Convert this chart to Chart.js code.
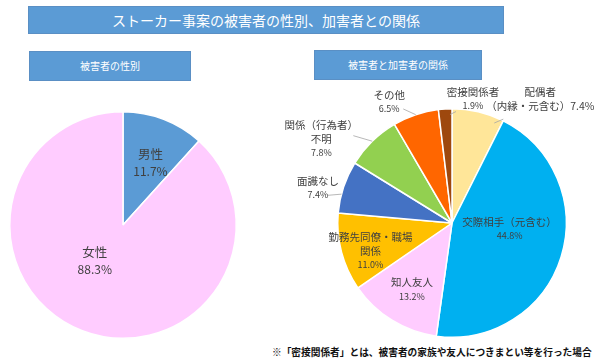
<!DOCTYPE html>
<html lang="ja">
<head>
<meta charset="utf-8">
<script src="https://cdn.jsdelivr.net/npm/chart.js@4.4.0/dist/chart.umd.min.js"></script>
<style>
    body { margin: 0; width: 600px; height: 364px; background: #fff; position: relative; overflow: hidden;
           font-family: "Noto Sans CJK JP", sans-serif; }
    .bar { position: absolute; background: #5B9BD5; color: #fff; text-align: center;
           border: 1px solid #5A8FC4; box-sizing: border-box; }
    #title { left: 28px; top: 6px; width: 476px; height: 28px; line-height: 26px; font-size: 14px; }
    #sub1 { left: 29px; top: 51px; width: 162px; height: 30px; line-height: 28px; font-size: 10px; }
    #sub2 { left: 314px; top: 50px; width: 168px; height: 30px; line-height: 28px; font-size: 10px; }
    #note { position: absolute; left: 272px; top: 345px; font-size: 9.7px; font-weight: bold; color: #111; white-space: nowrap; }
    .box { position: absolute; }
    #leftBox { left: 0; top: 100px; width: 260px; height: 250px; }
    #rightBox { left: 270px; top: 82px; width: 330px; height: 263px; }
</style>
</head>
<body>
<div class="bar" id="title">ストーカー事案の被害者の性別、加害者との関係</div>
<div class="bar" id="sub1">被害者の性別</div>
<div class="bar" id="sub2">被害者と加害者の関係</div>
<div class="box" id="leftBox"><canvas id="genderChart"></canvas></div>
<div class="box" id="rightBox"><canvas id="relationChart"></canvas></div>
<div id="note">※「密接関係者」とは、被害者の家族や友人につきまとい等を行った場合</div>
<script>
// 被害者の性別
const genderLabels = ['男性', '女性'];
const genderValues = [11.7, 88.3];
const genderColors = ['#5B9BD5', '#FFCCFF'];

// 被害者と加害者の関係
const relationLabels = ['配偶者（内縁・元含む）', '交際相手（元含む）', '知人友人', '勤務先同僚・職場関係',
                        '面識なし', '関係（行為者）不明', 'その他', '密接関係者'];
const relationValues = [7.4, 44.8, 13.2, 11.0, 7.4, 7.8, 6.5, 1.9];
const relationColors = ['#FFE699', '#00B0F0', '#FFCCFF', '#FFC000', '#4472C4', '#92D050', '#FF6600', '#9E480E'];

// ラベルの行 ({v} に値が入る)
const genderLines = [['男性', '{v}'], ['女性', '{v}']];
const relationLines = [
    ['配偶者', '（内縁・元含む）{v}'],
    ['交際相手（元含む）', '{v}'],
    ['知人友人', '{v}'],
    ['勤務先同僚・職場', '関係', '{v}'],
    ['面識なし', '{v}'],
    ['関係（行為者）', '不明', '{v}'],
    ['その他', '{v}'],
    ['密接関係者', '{v}']
];

// ラベル位置 (中心角方向の半径比 + ずれ)
const genderPos = [
    { rf: 0.6, dx: 3, dy: 1 },
    { rf: 0.35, dx: -14, dy: -1 }
];
const relationPos = [
    { rf: 1.15, dx: 58, dy: 4, leader: { t: 0.86, r: 0.95, ex: -37, ey: 20 } },
    { rf: 0.5, dx: 3, dy: -11 },
    { rf: 0.65, dx: -1, dy: 3 },
    { rf: 0.72, dx: -2, dy: 7 },
    { rf: 1.2, dx: -4, dy: 8, leader: { t: 0.36, r: 1.0, ex: 10, ey: 7.5 } },
    { rf: 1.3, dx: -27, dy: 22, leader: { t: 0.5, r: 1.0, ex: 32, ey: -3 } },
    { rf: 1.15, dx: -21, dy: 3.5, leader: { t: 0.5, r: 1.0, ex: 14, ey: 7 } },
    { rf: 1.1, dx: 28.5, dy: 1, leader: { t: 0.85, r: 0.95, ex: -17, ey: 13 } }
];

const pieLabels = {
    id: 'pieLabels',
    afterDatasetsDraw(chart, args, opts) {
        const ctx = chart.ctx;
        const values = chart.data.datasets[0].data;
        chart.getDatasetMeta(0).data.forEach(function(arc, i) {
            const p = opts.pos[i];
            const a = arc.getProps(['x', 'y', 'startAngle', 'endAngle', 'outerRadius'], true);
            const mid = (a.startAngle + a.endAngle) / 2;
            const lx = a.x + Math.cos(mid) * a.outerRadius * p.rf + p.dx;
            const ly = a.y + Math.sin(mid) * a.outerRadius * p.rf + p.dy;
            ctx.save();
            if (p.leader) {
                const ang = a.startAngle + (a.endAngle - a.startAngle) * p.leader.t;
                ctx.strokeStyle = '#A6A6A6';
                ctx.lineWidth = 0.8;
                ctx.beginPath();
                ctx.moveTo(a.x + Math.cos(ang) * a.outerRadius * p.leader.r, a.y + Math.sin(ang) * a.outerRadius * p.leader.r);
                ctx.lineTo(lx + p.leader.ex, ly + p.leader.ey);
                ctx.stroke();
            }
            const lines = opts.lines[i];
            const top = ly - opts.lineHeight * (lines.length - 1) / 2;
            ctx.fillStyle = opts.color;
            ctx.textAlign = 'center';
            ctx.textBaseline = 'middle';
            lines.forEach(function(s, k) {
                ctx.font = (s === '{v}' ? opts.pctFont : opts.nameFont) + ' "Noto Sans CJK JP", sans-serif';
                ctx.fillText(s.replace('{v}', values[i].toFixed(1) + '%'), lx, top + k * opts.lineHeight);
            });
            ctx.restore();
        });
    }
};

document.addEventListener('DOMContentLoaded', function() {
    new Chart(document.getElementById('genderChart'), {
        type: 'pie',
        data: {
            labels: genderLabels,
            datasets: [{
                data: genderValues,
                backgroundColor: genderColors,
                borderColor: '#fff',
                borderWidth: 1.5
            }]
        },
        options: {
            responsive: true,
            maintainAspectRatio: false,
            animation: false,
            layout: { padding: { left: 9, right: 23, top: 11, bottom: 11 } },
            plugins: {
                legend: { display: false },
                tooltip: { enabled: false },
                pieLabels: { pos: genderPos, lines: genderLines, lineHeight: 17,
                             nameFont: '12.5px', pctFont: '12px', color: '#404040' }
            }
        },
        plugins: [pieLabels]
    });

    new Chart(document.getElementById('relationChart'), {
        type: 'pie',
        data: {
            labels: relationLabels,
            datasets: [{
                data: relationValues,
                backgroundColor: relationColors,
                borderColor: '#fff',
                borderWidth: 1.5
            }]
        },
        options: {
            responsive: true,
            maintainAspectRatio: false,
            animation: false,
            layout: { padding: { left: 67, right: 33, top: 26, bottom: 7 } },
            plugins: {
                legend: { display: false },
                tooltip: { enabled: false },
                pieLabels: { pos: relationPos, lines: relationLines, lineHeight: 14,
                             nameFont: '10.5px', pctFont: '9px', color: '#404040' }
            }
        },
        plugins: [pieLabels]
    });
});
</script>
</body>
</html>
